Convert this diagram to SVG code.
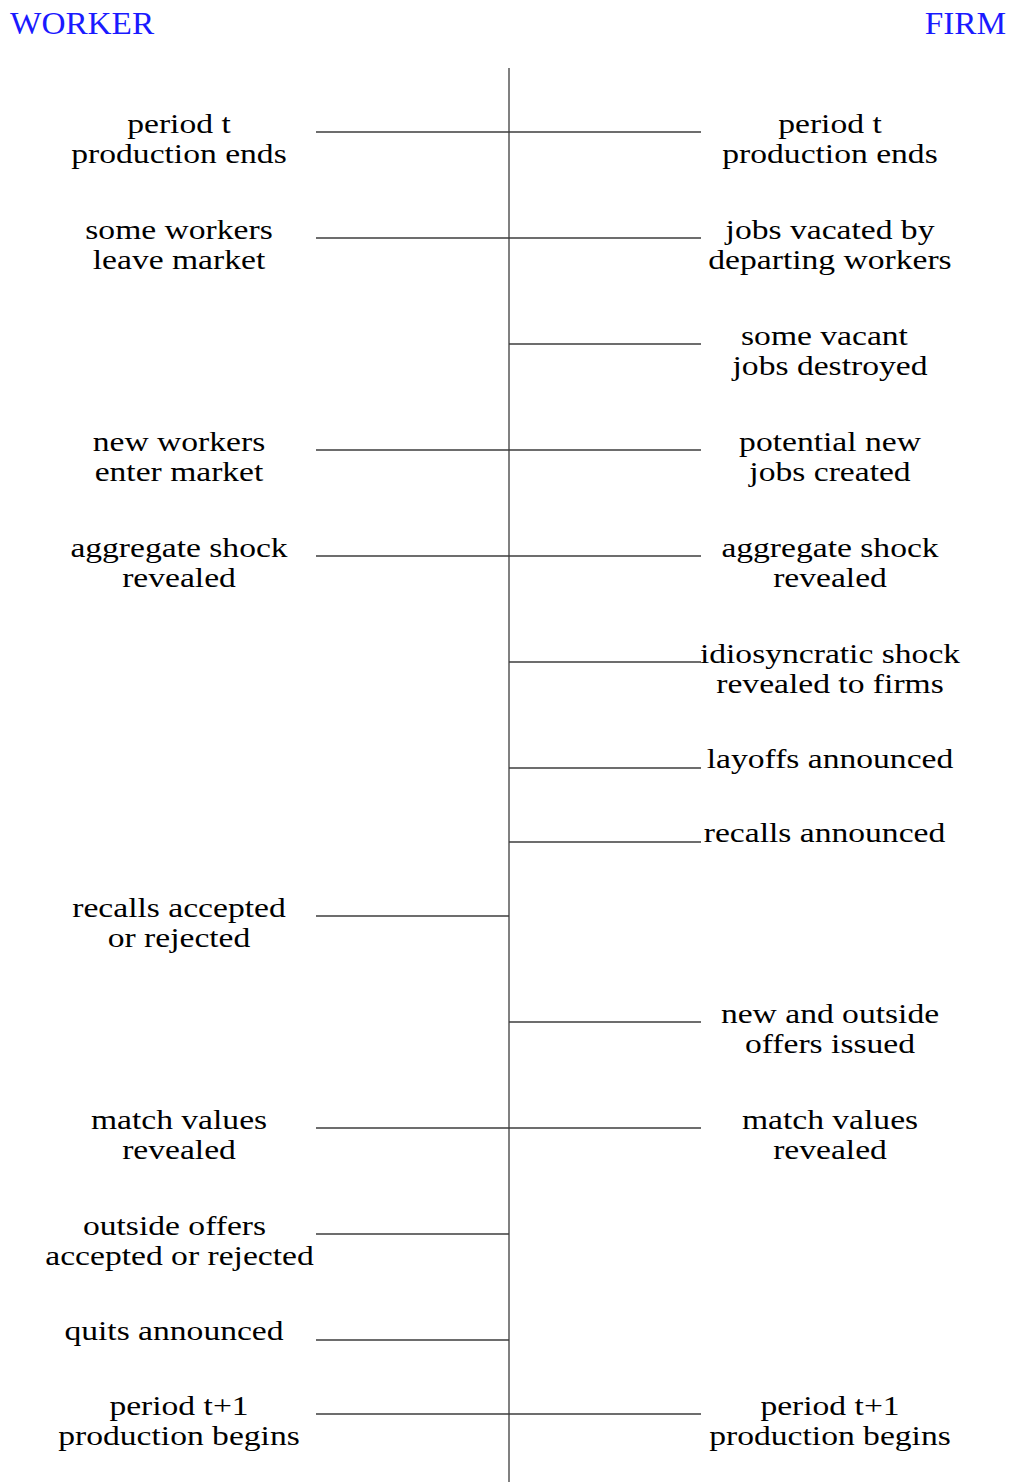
<svg xmlns="http://www.w3.org/2000/svg" width="1011" height="1482" viewBox="0 0 1011 1482">
<style>
.t{font-family:"Liberation Serif","Times New Roman",serif;font-size:28px;fill:#000;text-anchor:middle}
.h{font-family:"Liberation Serif","Times New Roman",serif;font-size:32px;fill:#1a1aff}
.c line{stroke:#3c3c3c;stroke-width:1.3}
</style>
<rect width="1011" height="1482" fill="#fff"/>
<g id="headers">
<text class="h" x="10" y="34" transform="translate(10,0) scale(1.04,1) translate(-10,0)">WORKER</text>
<text class="h" x="1006" y="34" text-anchor="end" transform="translate(1006,0) scale(1.04,1) translate(-1006,0)">FIRM</text>
</g>
<g id="connectors" class="c">
<line x1="509" y1="68" x2="509" y2="1482"/>
<line x1="316" y1="132" x2="509" y2="132"/>
<line x1="316" y1="238" x2="509" y2="238"/>
<line x1="316" y1="450" x2="509" y2="450"/>
<line x1="316" y1="556" x2="509" y2="556"/>
<line x1="316" y1="916" x2="509" y2="916"/>
<line x1="316" y1="1128" x2="509" y2="1128"/>
<line x1="316" y1="1234" x2="509" y2="1234"/>
<line x1="316" y1="1340" x2="509" y2="1340"/>
<line x1="316" y1="1414" x2="509" y2="1414"/>
<line x1="509" y1="132" x2="701" y2="132"/>
<line x1="509" y1="238" x2="701" y2="238"/>
<line x1="509" y1="344" x2="701" y2="344"/>
<line x1="509" y1="450" x2="701" y2="450"/>
<line x1="509" y1="556" x2="701" y2="556"/>
<line x1="509" y1="662" x2="701" y2="662"/>
<line x1="509" y1="768" x2="701" y2="768"/>
<line x1="509" y1="842" x2="701" y2="842"/>
<line x1="509" y1="1022" x2="701" y2="1022"/>
<line x1="509" y1="1128" x2="701" y2="1128"/>
<line x1="509" y1="1414" x2="701" y2="1414"/>
</g>
<g id="w1"><text class="t" transform="translate(179,133) scale(1.2,1)">period t</text><text class="t" transform="translate(179,163) scale(1.2,1)">production ends</text></g>
<g id="w2"><text class="t" transform="translate(179,239) scale(1.2,1)">some workers</text><text class="t" transform="translate(179,269) scale(1.2,1)">leave market</text></g>
<g id="w3"><text class="t" transform="translate(179,451) scale(1.2,1)">new workers</text><text class="t" transform="translate(179,481) scale(1.2,1)">enter market</text></g>
<g id="w4"><text class="t" transform="translate(179,557) scale(1.2,1)">aggregate shock</text><text class="t" transform="translate(179,587) scale(1.2,1)">revealed</text></g>
<g id="w5"><text class="t" transform="translate(179,917) scale(1.2,1)">recalls accepted</text><text class="t" transform="translate(179,947) scale(1.2,1)">or rejected</text></g>
<g id="w6"><text class="t" transform="translate(179,1129) scale(1.2,1)">match values</text><text class="t" transform="translate(179,1159) scale(1.2,1)">revealed</text></g>
<g id="w7"><text class="t" transform="translate(174.5,1235) scale(1.2,1)">outside offers</text><text class="t" transform="translate(179.5,1265) scale(1.2,1)">accepted or rejected</text></g>
<g id="w8"><text class="t" transform="translate(174,1340) scale(1.2,1)">quits announced</text></g>
<g id="w9"><text class="t" transform="translate(179,1415) scale(1.2,1)">period t+1</text><text class="t" transform="translate(179,1445) scale(1.2,1)">production begins</text></g>
<g id="f1"><text class="t" transform="translate(830,133) scale(1.2,1)">period t</text><text class="t" transform="translate(830,163) scale(1.2,1)">production ends</text></g>
<g id="f2"><text class="t" transform="translate(830,239) scale(1.2,1)">jobs vacated by</text><text class="t" transform="translate(830,269) scale(1.2,1)">departing workers</text></g>
<g id="f3"><text class="t" transform="translate(824.5,345) scale(1.2,1)">some vacant</text><text class="t" transform="translate(830,375) scale(1.2,1)">jobs destroyed</text></g>
<g id="f4"><text class="t" transform="translate(830,451) scale(1.2,1)">potential new</text><text class="t" transform="translate(830,481) scale(1.2,1)">jobs created</text></g>
<g id="f5"><text class="t" transform="translate(830,557) scale(1.2,1)">aggregate shock</text><text class="t" transform="translate(830,587) scale(1.2,1)">revealed</text></g>
<g id="f6"><text class="t" transform="translate(830,663) scale(1.2,1)">idiosyncratic shock</text><text class="t" transform="translate(830,693) scale(1.2,1)">revealed to firms</text></g>
<g id="f7"><text class="t" transform="translate(830,768) scale(1.2,1)">layoffs announced</text></g>
<g id="f8"><text class="t" transform="translate(824.5,842) scale(1.2,1)">recalls announced</text></g>
<g id="f9"><text class="t" transform="translate(830,1023) scale(1.2,1)">new and outside</text><text class="t" transform="translate(830,1053) scale(1.2,1)">offers issued</text></g>
<g id="f10"><text class="t" transform="translate(830,1129) scale(1.2,1)">match values</text><text class="t" transform="translate(830,1159) scale(1.2,1)">revealed</text></g>
<g id="f11"><text class="t" transform="translate(830,1415) scale(1.2,1)">period t+1</text><text class="t" transform="translate(830,1445) scale(1.2,1)">production begins</text></g>
</svg>
